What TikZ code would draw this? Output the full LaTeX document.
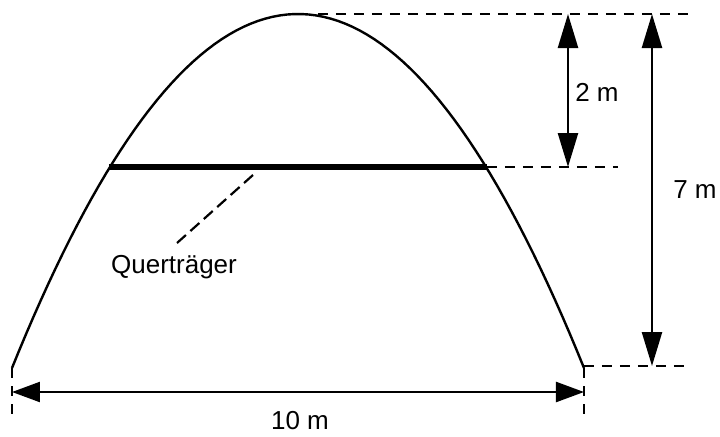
\documentclass[tikz,border=0pt]{standalone}
\usepackage{fontspec}
\setmainfont{Liberation Sans}
\usepackage{tikz}
\usetikzlibrary{arrows.meta,positioning,calc}
\tikzset{
  curve/.style={draw=black, line width=1.2pt, line join=round},
  beam/.style={draw=black, line width=2.8pt},
  dimline/.style={{Triangle[length=#1,width=10pt]}-{Triangle[length=#1,width=10pt]}, draw=black, line width=1.2pt},
  dimline/.default=17pt,
  helpline/.style={draw=black, line width=1.1pt, dash pattern=on 5pt off 4pt},
  lbl/.style={font=\fontsize{13}{15}\selectfont, inner sep=0pt}
}

\begin{document}
\begin{tikzpicture}[x=0.5pt, y=-0.5pt]
  \useasboundingbox (0,0) rectangle (720,436);
  % parabola arch
  \coordinate (baseL) at (12,368);
  \coordinate (baseR) at (584,368);
  \coordinate (apex) at (298,14);
  \draw[curve] plot[domain=-286:286, samples=80] ({298+\x},{368-354*(1-(\x/286)^2)});
  % cross beam
  \coordinate (barL) at (109,167);
  \coordinate (barR) at (487,167);
  \draw[beam] (barL) -- (barR);
  % helper lines
  \coordinate (topend) at (688,14);
  \coordinate (midend) at (618,167);
  \coordinate (botend) at (690,366);
  \coordinate (tickL) at (12,420);
  \coordinate (tickR) at (584,420);
  \draw[helpline] (318,14) -- (topend);
  \draw[helpline] (barR) -- (midend);
  \draw[helpline] (584,366) -- (botend);
  \draw[helpline] (baseL) -- (tickL);
  \draw[helpline] (baseR) -- (tickR);
  % dimensions
  \coordinate (d2a) at (568,14);
  \coordinate (d2b) at (568,167);
  \coordinate (d7a) at (652,14);
  \coordinate (d7b) at (652,366);
  \coordinate (d10a) at (12,392);
  \coordinate (d10b) at (584,392);
  \draw[dimline] (d2a) -- (d2b);
  \draw[dimline] (d7a) -- (d7b);
  \draw[dimline=14pt] (d10a) -- (d10b);
  \node[lbl] (lbltwo) at (597,92) {2 m};
  \node[lbl] (lblseven) at (695,190) {7 m};
  \node[lbl] (lblten) at (300,421) {10 m};
  % beam label
  \node[lbl] (lblbeam) at (174,267) {Querträger};
  \coordinate (lead) at (253,175);
  \coordinate (leadend) at (177,243);
  \draw[helpline, dash pattern=on 6pt off 3pt] (lead) -- (leadend);
\end{tikzpicture}
\end{document}
